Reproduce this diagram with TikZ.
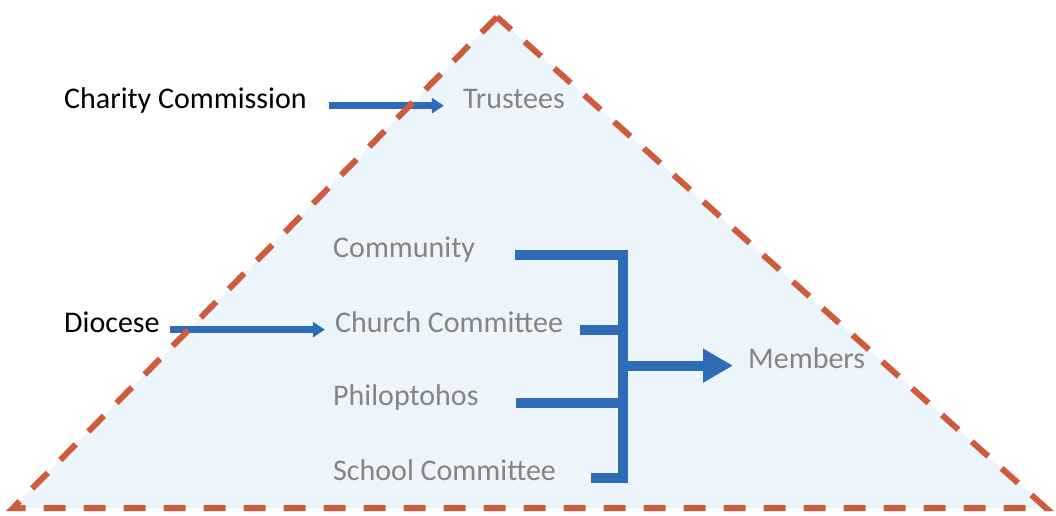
\documentclass[tikz,border=0pt]{standalone}
\usepackage{fontspec}
\setmainfont{Carlito}
\usetikzlibrary{arrows.meta, positioning}
\definecolor{barblue}{RGB}{46,108,182}
\definecolor{itemgray}{RGB}{132,132,132}
\definecolor{edgered}{RGB}{208,90,60}
\definecolor{fillblue}{RGB}{236,245,251}

\begin{document}
\begin{tikzpicture}[x=1pt, y=-1pt,
  lbl/.style={inner sep=0pt, anchor=base west, font=\fontsize{30}{36}\selectfont},
  item/.style={lbl, text=itemgray},
  feed/.style={draw=barblue, line width=7pt, -{Triangle[length=12pt,width=15pt]}},
  bar/.style={draw=barblue, line width=10pt},
  edge/.style={draw=edgered, line width=6pt, dash pattern=on 22pt off 18pt},
]
  \useasboundingbox (0,0) rectangle (1056,515);

  % the pyramid
  \coordinate (apex) at (497,17);
  \coordinate (bl) at (13,508);
  \coordinate (br) at (1046,508);
  \fill[fillblue] (apex) -- (bl) -- (br) -- cycle;

  \node[lbl] (charity) at (64,108) {Charity Commission};
  \node[item, base right=156pt of charity] (trustees) {Trustees};
  \node[item] (community) at (333,257) {Community};
  \node[lbl] (diocese) at (64,332) {Diocese};
  \node[item, base right=175pt of diocese] (church) {Church Committee};
  \node[item] (philo) at (333,405) {Philoptohos};
  \node[item] (school) at (333,480) {School Committee};
  \node[item] (members) at (748,368) {Members};

  \draw[feed, shorten <=22pt, shorten >=19pt] (charity.mid east) -- (trustees.mid west);
  \draw[feed, shorten <=10pt, shorten >=10pt] (diocese.mid east) -- (church.mid west);

  % bracket into members
  \coordinate (hub) at (623,0);
  \draw[bar] ([xshift=40pt]community.mid east) -| (hub |- school.mid)
    -- ([xshift=35pt]school.mid east);
  \draw[bar] ([xshift=17pt]church.mid east) -- (hub |- church.mid);
  \draw[bar] ([xshift=37pt]philo.mid east) -- (hub |- philo.mid);
  \draw[bar, -{Triangle[length=30pt,width=32pt]}, shorten >=15pt]
    (hub |- members.mid) -- (members.mid west);

  \draw[edge] (apex) -- (bl) -- (br) -- cycle;
\end{tikzpicture}
\end{document}
